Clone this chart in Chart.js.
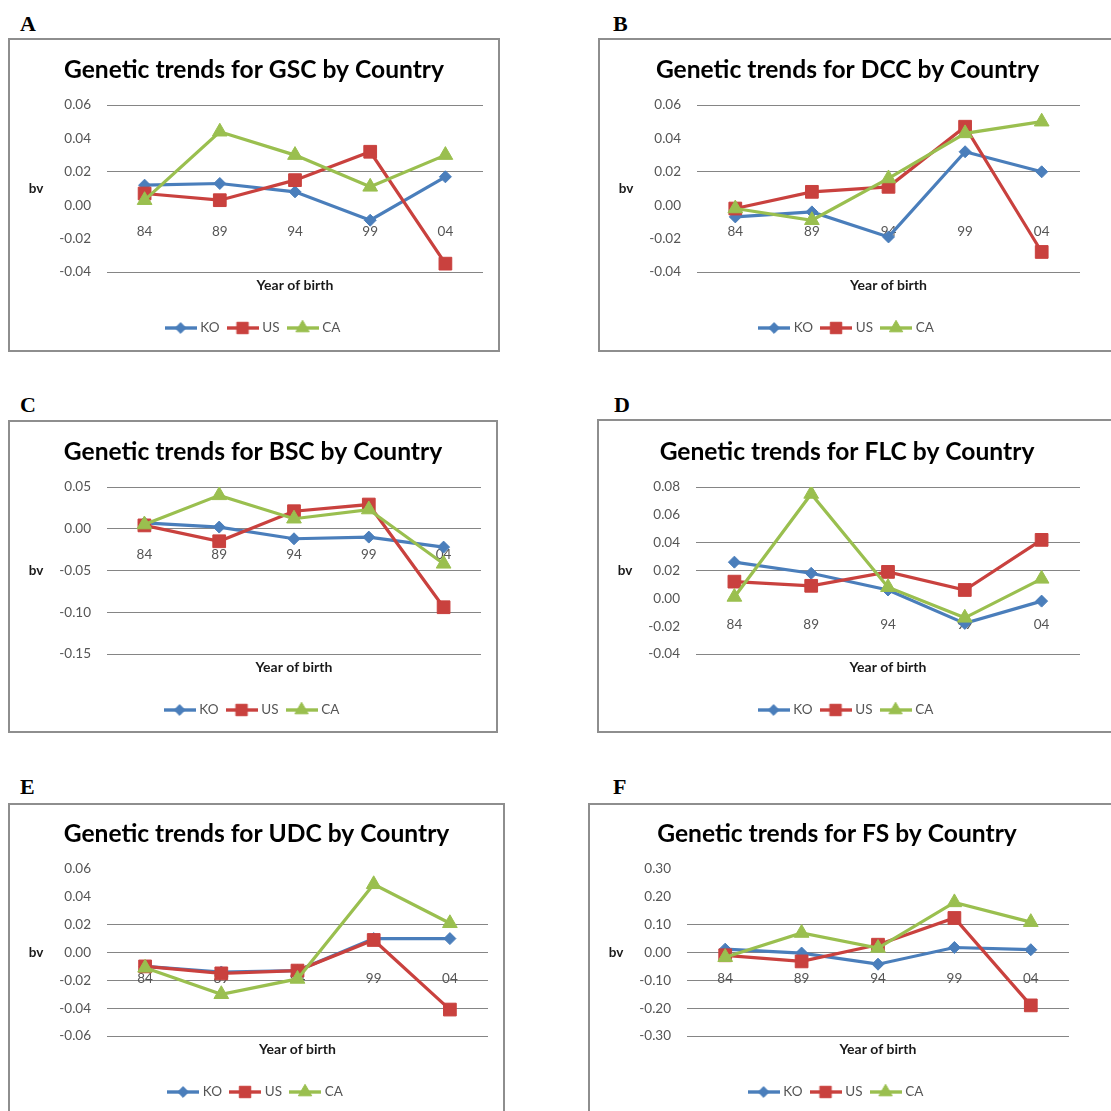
<!DOCTYPE html>
<html>
<head>
<meta charset="utf-8">
<script src="https://cdn.jsdelivr.net/npm/chart.js@4.4.1/dist/chart.umd.min.js"></script>
<style>
  html, body { margin: 0; padding: 0; background: #fff; width: 1111px; height: 1111px; overflow: hidden; }
  .frame { position: absolute; border: 2px solid #8e8e8e; box-sizing: border-box; pointer-events: none; }
  .letter { position: absolute; font: bold 22px "Liberation Serif", "Times New Roman", serif; line-height: 22px; color: #000; }
  canvas { position: absolute; }
</style>
</head>
<body>
<script>
// categories and legend
const years = ['84', '89', '94', '99', '04'];
const countries = ['KO', 'US', 'CA'];

// A - GSC
const gscKO = [0.012, 0.013, 0.008, -0.009, 0.017];
const gscUS = [0.007, 0.003, 0.015, 0.032, -0.035];
const gscCA = [0.003, 0.044, 0.030, 0.011, 0.030];
const gscTicks = [-0.04, -0.02, 0.00, 0.02, 0.04, 0.06];

// B - DCC
const dccKO = [-0.007, -0.004, -0.019, 0.032, 0.020];
const dccUS = [-0.002, 0.008, 0.011, 0.047, -0.028];
const dccCA = [-0.002, -0.009, 0.016, 0.043, 0.050];
const dccTicks = [-0.04, -0.02, 0.00, 0.02, 0.04, 0.06];

// C - BSC
const bscKO = [0.007, 0.002, -0.012, -0.010, -0.022];
const bscUS = [0.004, -0.015, 0.021, 0.029, -0.094];
const bscCA = [0.005, 0.040, 0.012, 0.023, -0.042];
const bscTicks = [-0.15, -0.10, -0.05, 0.00, 0.05];

// D - FLC
const flcKO = [0.026, 0.018, 0.006, -0.018, -0.002];
const flcUS = [0.012, 0.009, 0.019, 0.006, 0.042];
const flcCA = [0.001, 0.075, 0.008, -0.014, 0.014];
const flcTicks = [-0.04, -0.02, 0.00, 0.02, 0.04, 0.06, 0.08];

// E - UDC
const udcKO = [-0.010, -0.014, -0.013, 0.010, 0.010];
const udcUS = [-0.010, -0.015, -0.013, 0.009, -0.041];
const udcCA = [-0.011, -0.030, -0.019, 0.049, 0.021];
const udcTicks = [-0.06, -0.04, -0.02, 0.00, 0.02, 0.04, 0.06];

// F - FS
const fsKO = [0.012, -0.002, -0.042, 0.018, 0.010];
const fsUS = [-0.010, -0.032, 0.028, 0.124, -0.190];
const fsCA = [-0.017, 0.070, 0.016, 0.180, 0.109];
const fsTicks = [-0.30, -0.20, -0.10, 0.00, 0.10, 0.20, 0.30];

const colors = ['#4a7ebb', '#c9413e', '#9abf4f'];
const markers = ['rectRot', 'rect', 'triangle'];
const radii = [6, 9, 8.5];

// panel boxes (canvas + frame) and which gridlines survive in the scan
const panels = [
  { letter: 'A', code: 'GSC', series: [gscKO, gscUS, gscCA], ticks: gscTicks, grid: [0.06, 0.02, -0.04],
    x: 8, y: 38, w: 492, h: 314, frame: [8, 38, 492, 314], lpos: [20, 13] },
  { letter: 'B', code: 'DCC', series: [dccKO, dccUS, dccCA], ticks: dccTicks, grid: [0.06, 0.02, -0.04],
    x: 598, y: 38, w: 499, h: 314, frame: [598, 38, 560, 314], lpos: [613, 13] },
  { letter: 'C', code: 'BSC', series: [bscKO, bscUS, bscCA], ticks: bscTicks, grid: [0.05, 0, -0.05, -0.10, -0.15],
    x: 8, y: 420, w: 490, h: 313, frame: [8, 420, 490, 313], lpos: [20, 394] },
  { letter: 'D', code: 'FLC', series: [flcKO, flcUS, flcCA], ticks: flcTicks, grid: [0.08, 0.04, 0.02, -0.04],
    x: 597, y: 420, w: 500, h: 313, frame: [597, 419, 560, 314], lpos: [614, 394] },
  { letter: 'E', code: 'UDC', series: [udcKO, udcUS, udcCA], ticks: udcTicks, grid: [0.02, 0, -0.02, -0.04, -0.06],
    x: 8, y: 802, w: 497, h: 322, frame: [8, 803, 497, 340], lpos: [20, 776] },
  { letter: 'F', code: 'FS', series: [fsKO, fsUS, fsCA], ticks: fsTicks, grid: [0.10, 0, -0.10, -0.20, -0.30],
    x: 588, y: 802, w: 498, h: 322, frame: [588, 803, 560, 340], lpos: [613, 776] }
];

// vertical offsets inside each panel (from canvas top)
const TITLE_Y = 32, PLOT_TOP = 67, PLOT_BOTTOM = 234, XTITLE_Y = 247, LEGEND_Y = 290;
const PLOT_LEFT = 99, PAD_RIGHT = 17;
const TITLE_SIZE = 24.6, XTITLE_SIZE = 14, LEG_SIZE = 13.5, LEG_PAD = 10;

const key = v => Math.round(v * 1000);

function legendIcon(i) {
    const c = document.createElement('canvas');
    c.width = 32; c.height = 20;
    const ctx = c.getContext('2d');
    ctx.strokeStyle = colors[i];
    ctx.fillStyle = colors[i];
    ctx.lineWidth = 3.4;
    ctx.beginPath();
    ctx.moveTo(0, 10);
    ctx.lineTo(32, 10);
    ctx.stroke();
    ctx.lineWidth = 1;
    Chart.helpers.drawPoint(ctx, { pointStyle: markers[i], radius: radii[i] * 0.9, rotation: 0, borderWidth: 1 }, 16, 10);
    return c;
}

const icons = countries.map((c, i) => legendIcon(i));

const bvLabel = {
    id: 'bvLabel',
    afterDraw(chart) {
        const { ctx, chartArea } = chart;
        ctx.save();
        ctx.font = 'bold 13.5px Lato';
        ctx.fillStyle = '#1a1a1a';
        ctx.textAlign = 'center';
        ctx.textBaseline = 'middle';
        ctx.fillText('bv', chartArea.left - 71, (chartArea.top + chartArea.bottom) / 2);
        ctx.restore();
    }
};

function makePanel(p) {
    const fr = document.createElement('div');
    fr.className = 'frame';
    fr.style.left = p.frame[0] + 'px';
    fr.style.top = p.frame[1] + 'px';
    fr.style.width = p.frame[2] + 'px';
    fr.style.height = p.frame[3] + 'px';

    const lt = document.createElement('div');
    lt.className = 'letter';
    lt.textContent = p.letter;
    lt.style.left = p.lpos[0] + 'px';
    lt.style.top = p.lpos[1] + 'px';
    document.body.appendChild(lt);

    const cv = document.createElement('canvas');
    cv.width = p.w; cv.height = p.h;
    cv.style.left = p.x + 'px';
    cv.style.top = p.y + 'px';
    cv.style.width = p.w + 'px';
    cv.style.height = p.h + 'px';
    document.body.appendChild(cv);
    document.body.appendChild(fr);

    const lhT = TITLE_SIZE * 1.2;
    const titleTop = TITLE_Y - lhT / 2;
    const lhX = XTITLE_SIZE * 1.2;
    const xtTop = XTITLE_Y - PLOT_BOTTOM - lhX / 2;
    const xtBottom = (LEGEND_Y - PLOT_BOTTOM) - xtTop - lhX - LEG_PAD - LEG_SIZE / 2;
    const padBottom = p.h - LEGEND_Y - LEG_SIZE / 2 - 10;

    const visible = p.grid.map(key);
    const tmin = p.ticks[0];
    const tmax = p.ticks[p.ticks.length - 1];

    new Chart(cv.getContext('2d'), {
        type: 'line',
        data: {
            labels: years,
            datasets: countries.map((c, i) => ({
                label: c,
                data: p.series[i],
                borderColor: colors[i],
                backgroundColor: colors[i],
                borderWidth: 3.2,
                pointStyle: markers[i],
                pointRadius: radii[i],
                pointBorderWidth: 1,
                tension: 0,
                order: 3 - i
            }))
        },
        options: {
            responsive: false,
            animation: false,
            events: [],
            layout: { padding: { left: 0, right: 0, top: 0, bottom: padBottom } },
            scales: {
                x: {
                    type: 'category',
                    position: { y: 0 },
                    offset: true,
                    grid: { display: false, drawTicks: false },
                    border: { display: false },
                    ticks: { padding: 18, color: '#555', font: { family: 'Lato', size: 13.5 }, maxRotation: 0 }
                },
                x2: {
                    type: 'category',
                    labels: years,
                    position: 'bottom',
                    display: true,
                    offset: true,
                    grid: { display: false, drawTicks: false },
                    border: { display: false },
                    ticks: { display: false },
                    title: {
                        display: true,
                        text: 'Year of birth',
                        color: '#1a1a1a',
                        font: { family: 'Lato', size: XTITLE_SIZE, weight: 'bold' },
                        padding: { top: xtTop, bottom: xtBottom }
                    }
                },
                y: {
                    position: 'left',
                    min: tmin,
                    max: tmax,
                    afterBuildTicks: s => { s.ticks = p.ticks.map(v => ({ value: v })); },
                    afterFit: s => { s.width = PLOT_LEFT; },
                    grid: {
                        drawTicks: false,
                        lineWidth: 1,
                        color: ctx => visible.includes(key(ctx.tick.value)) ? '#858585' : 'rgba(0,0,0,0)'
                    },
                    border: { display: false },
                    ticks: {
                        padding: 16,
                        color: '#555',
                        font: { family: 'Lato', size: 13.5 },
                        callback: v => v.toFixed(2)
                    }
                },
                // empty right axis, only keeps the plot off the right edge
                y2: {
                    position: 'right',
                    display: true,
                    grid: { display: false, drawTicks: false },
                    border: { display: false },
                    ticks: { display: false },
                    afterFit: s => { s.width = PAD_RIGHT; }
                }
            },
            plugins: {
                title: {
                    display: true,
                    text: 'Genetic trends for ' + p.code + ' by Country',
                    color: '#000',
                    font: { family: 'Lato', size: TITLE_SIZE, weight: 'bold' },
                    padding: { top: titleTop, bottom: PLOT_TOP - titleTop - lhT }
                },
                legend: {
                    position: 'bottom',
                    reverse: true,
                    labels: {
                        usePointStyle: true,
                        pointStyleWidth: 26,
                        padding: LEG_PAD,
                        color: '#555',
                        font: { family: 'Lato', size: LEG_SIZE },
                        generateLabels: chart => Chart.defaults.plugins.legend.labels.generateLabels(chart)
                            .map(l => ({ ...l, pointStyle: icons[l.datasetIndex] }))
                    }
                },
                tooltip: { enabled: false }
            }
        },
        plugins: [bvLabel]
    });
}

panels.forEach(makePanel);
</script>
</body>
</html>
